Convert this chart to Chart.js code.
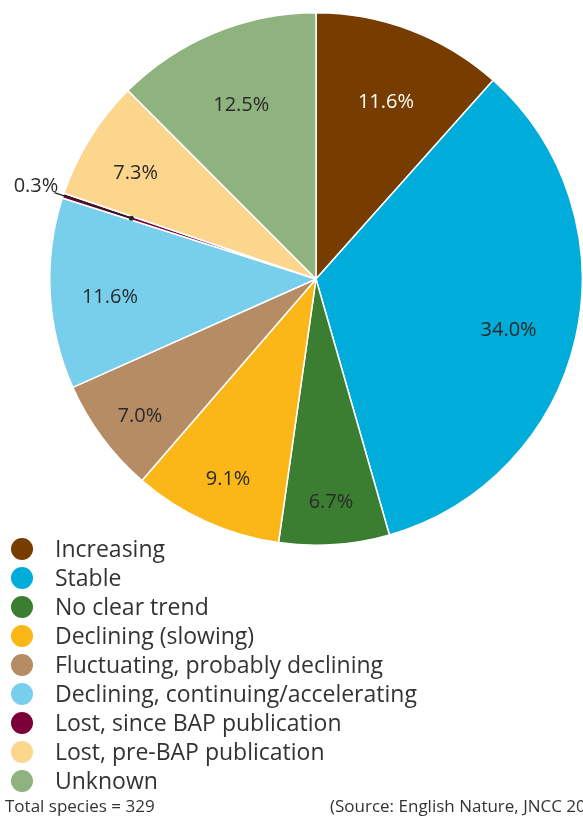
<!DOCTYPE html>
<html>
<head>
<meta charset="utf-8">
<script src="https://cdn.jsdelivr.net/npm/chart.js"></script>
<style>
  html, body { margin: 0; padding: 0; background: #fff; }
  #wrap { position: relative; width: 583px; height: 821px; overflow: hidden; }
</style>
</head>
<body>
<div id="wrap"><canvas id="camembert" width="583" height="821"></canvas></div>
<script>
// Tendances des espèces BAP (sens horaire depuis midi)
const categories = [
    "Increasing",
    "Stable",
    "No clear trend",
    "Declining (slowing)",
    "Fluctuating, probably declining",
    "Declining, continuing/accelerating",
    "Lost, since BAP publication",
    "Lost, pre-BAP publication",
    "Unknown"
];
const pourcentages = [11.6, 34.0, 6.7, 9.1, 7.0, 11.6, 0.3, 7.3, 12.5];
const couleurs = [
    "#763c00", "#00acd9", "#3b7d31", "#fbb618", "#b58c63",
    "#77cfeb", "#7b0037", "#fdd68d", "#8fb37f"
];
const couleursTexte = ["#fff", "#2a2a2a", "#2a2a2a", "#2a2a2a", "#2a2a2a", "#2a2a2a", "#2a2a2a", "#2a2a2a", "#2a2a2a"];
const totalTexte = "Total species = 329";
const sourceTexte = "(Source: English Nature, JNCC 2004)";

// Distance des étiquettes au centre, en fraction du rayon
const rayonsEtiquettes = [0.738, 0.742, 0.816, 0.798, 0.824, 0.775, 0.73, 0.798, 0.734];

const police = "'Open Sans', sans-serif";

// Étiquettes de pourcentage dans les parts (la petite part a un trait de rappel)
const etiquettesParts = {
    id: "etiquettesParts",
    afterDatasetsDraw(chart) {
        const ctx = chart.ctx;
        const arcs = chart.getDatasetMeta(0).data;
        ctx.save();
        ctx.font = "20px " + police;
        arcs.forEach((arc, i) => {
            const p = arc.getProps(["x", "y", "startAngle", "endAngle", "outerRadius"], true);
            const milieu = (p.startAngle + p.endAngle) / 2;
            const texte = pourcentages[i].toFixed(1) + "%";
            const r = p.outerRadius * rayonsEtiquettes[i];
            ctx.fillStyle = couleursTexte[i];
            if (pourcentages[i] < 1) {
                const r2 = p.outerRadius * 1.035;
                const x1 = p.x + Math.cos(milieu) * r, y1 = p.y + Math.sin(milieu) * r;
                const x2 = p.x + Math.cos(milieu) * r2, y2 = p.y + Math.sin(milieu) * r2;
                ctx.strokeStyle = "#222";
                ctx.lineWidth = 1.2;
                ctx.beginPath();
                ctx.moveTo(x1, y1);
                ctx.lineTo(x2, y2);
                ctx.stroke();
                ctx.beginPath();
                ctx.arc(x1, y1, 2.5, 0, Math.PI * 2);
                ctx.fill();
                ctx.textAlign = "right";
                ctx.textBaseline = "middle";
                ctx.fillText(texte, x2 + 4, y2 - 6);
            } else {
                ctx.textAlign = "center";
                ctx.textBaseline = "middle";
                ctx.fillText(texte, p.x + Math.cos(milieu) * r, p.y + Math.sin(milieu) * r + 7);
            }
        });
        ctx.restore();
    }
};

// Légende à pastilles rondes + pied de page
const legendeBas = {
    id: "legendeBas",
    afterDraw(chart) {
        const ctx = chart.ctx;
        ctx.save();
        ctx.textBaseline = "middle";
        ctx.textAlign = "left";
        categories.forEach((nom, i) => {
            const y = 549 + i * 29;
            ctx.fillStyle = couleurs[i];
            ctx.beginPath();
            ctx.arc(22, y, 11, 0, Math.PI * 2);
            ctx.fill();
            ctx.fillStyle = "#333";
            ctx.font = "23px " + police;
            ctx.fillText(nom, 55, y + 1);
        });
        ctx.font = "17px " + police;
        ctx.fillText(totalTexte, 5, 807);
        ctx.fillText(sourceTexte, 330, 807);
        ctx.restore();
    }
};

new Chart(document.getElementById("camembert"), {
    type: "pie",
    data: {
        labels: categories,
        datasets: [{
            data: pourcentages,
            backgroundColor: couleurs,
            borderColor: "#fff",
            borderWidth: 1.5
        }]
    },
    options: {
        responsive: false,
        animation: false,
        layout: { padding: { left: 49, right: 0, top: 12, bottom: 275 } },
        plugins: {
            legend: { display: false },
            tooltip: { enabled: false }
        }
    },
    plugins: [etiquettesParts, legendeBas]
});
</script>
</body>
</html>
